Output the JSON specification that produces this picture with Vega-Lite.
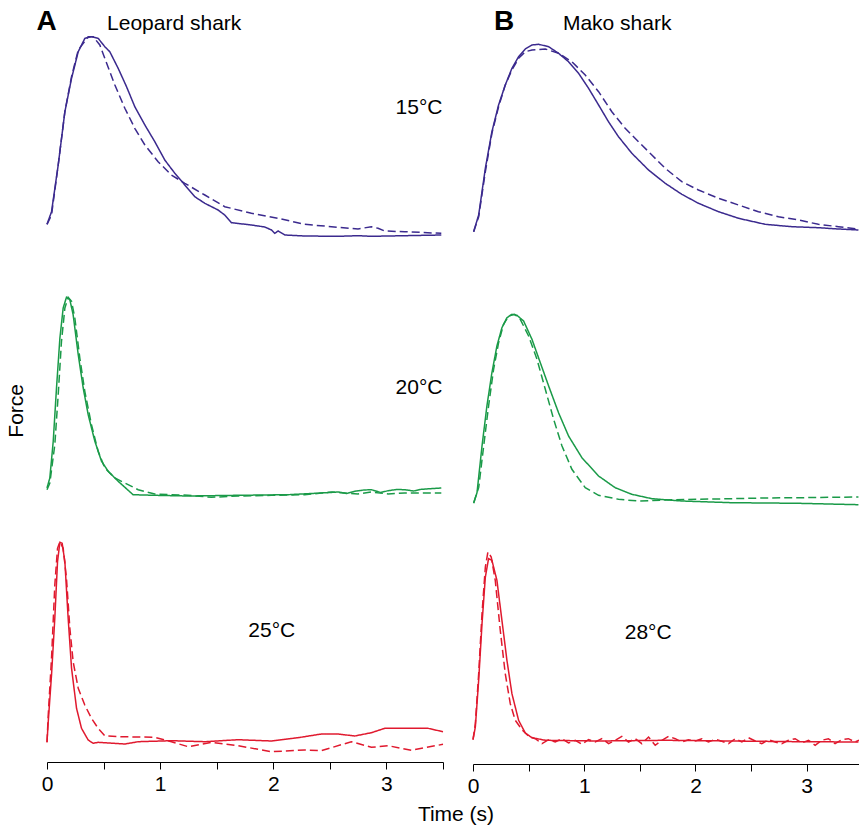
{
  "$schema": "https://vega.github.io/schema/vega-lite/v6.json",
  "background": "white",
  "padding": {"left": 5, "top": 5, "right": 0, "bottom": 2},
  "config": {"view": {"stroke": null}, "font": "Liberation Sans"},
  "title": {"text": "Time (s)", "orient": "bottom", "anchor": "middle", "font": "Liberation Sans", "fontSize": 21, "fontWeight": "normal", "color": "black", "offset": 8, "dx": 22},
  "datasets": {
    "leopard": [
      {"r":1,"k":"letter","t":-0.004,"f":220,"txt":"A"},
      {"r":1,"k":"name","t":1.124,"f":220,"txt":"Leopard shark"},
      {"r":1,"k":"temp","t":3.288,"f":135.7,"txt":"15°C"},
      {"r":2,"k":"temp","t":3.288,"f":112,"txt":"20°C"},
      {"r":3,"k":"temp","t":1.987,"f":125.3,"txt":"25°C"},
      {"r":1,"k":"solid","t":0,"f":25.7},{"r":1,"k":"solid","t":0.04,"f":38.3},{"r":1,"k":"solid","t":0.099,"f":85},{"r":1,"k":"solid","t":0.158,"f":138.3},{"r":1,"k":"solid","t":0.217,"f":171.7},{"r":1,"k":"solid","t":0.276,"f":198.3},{"r":1,"k":"solid","t":0.335,"f":211.7},{"r":1,"k":"solid","t":0.393,"f":213.3},{"r":1,"k":"solid","t":0.452,"f":211.7},{"r":1,"k":"solid","t":0.511,"f":203.3},{"r":1,"k":"solid","t":0.555,"f":198.3},{"r":1,"k":"solid","t":0.629,"f":181.7},{"r":1,"k":"solid","t":0.703,"f":163.3},{"r":1,"k":"solid","t":0.776,"f":143.3},{"r":1,"k":"solid","t":0.865,"f":125},{"r":1,"k":"solid","t":0.953,"f":108.3},{"r":1,"k":"solid","t":1.041,"f":90},{"r":1,"k":"solid","t":1.13,"f":76.7},{"r":1,"k":"solid","t":1.218,"f":65},{"r":1,"k":"solid","t":1.306,"f":53.3},{"r":1,"k":"solid","t":1.395,"f":46.7},{"r":1,"k":"solid","t":1.512,"f":40},{"r":1,"k":"solid","t":1.571,"f":35},{"r":1,"k":"solid","t":1.63,"f":27.3},{"r":1,"k":"solid","t":1.807,"f":25},{"r":1,"k":"solid","t":1.925,"f":23},{"r":1,"k":"solid","t":1.984,"f":20},{"r":1,"k":"solid","t":2.013,"f":16.7},{"r":1,"k":"solid","t":2.043,"f":19},{"r":1,"k":"solid","t":2.102,"f":15},{"r":1,"k":"solid","t":2.278,"f":14},{"r":1,"k":"solid","t":2.572,"f":13.7},{"r":1,"k":"solid","t":2.749,"f":14.3},{"r":1,"k":"solid","t":2.867,"f":13.7},{"r":1,"k":"solid","t":3.161,"f":14.3},{"r":1,"k":"solid","t":3.485,"f":15},
      {"r":1,"k":"dashed","t":0,"f":25.7},{"r":1,"k":"dashed","t":0.04,"f":35},{"r":1,"k":"dashed","t":0.099,"f":85},{"r":1,"k":"dashed","t":0.158,"f":138.3},{"r":1,"k":"dashed","t":0.217,"f":173.3},{"r":1,"k":"dashed","t":0.276,"f":200},{"r":1,"k":"dashed","t":0.364,"f":213.3},{"r":1,"k":"dashed","t":0.408,"f":213.3},{"r":1,"k":"dashed","t":0.467,"f":205},{"r":1,"k":"dashed","t":0.511,"f":191.7},{"r":1,"k":"dashed","t":0.6,"f":165},{"r":1,"k":"dashed","t":0.688,"f":141.7},{"r":1,"k":"dashed","t":0.776,"f":121.7},{"r":1,"k":"dashed","t":0.865,"f":105},{"r":1,"k":"dashed","t":0.982,"f":88.3},{"r":1,"k":"dashed","t":1.1,"f":75},{"r":1,"k":"dashed","t":1.218,"f":66.7},{"r":1,"k":"dashed","t":1.395,"f":55},{"r":1,"k":"dashed","t":1.571,"f":43.3},{"r":1,"k":"dashed","t":1.807,"f":36.7},{"r":1,"k":"dashed","t":2.043,"f":31.7},{"r":1,"k":"dashed","t":2.278,"f":25.7},{"r":1,"k":"dashed","t":2.514,"f":23.3},{"r":1,"k":"dashed","t":2.749,"f":21},{"r":1,"k":"dashed","t":2.867,"f":23.3},{"r":1,"k":"dashed","t":2.926,"f":21.7},{"r":1,"k":"dashed","t":2.985,"f":19},{"r":1,"k":"dashed","t":3.161,"f":18.3},{"r":1,"k":"dashed","t":3.485,"f":16.7},
      {"r":2,"k":"solid","t":0,"f":18},{"r":2,"k":"solid","t":0.025,"f":28},{"r":2,"k":"solid","t":0.055,"f":64.7},{"r":2,"k":"solid","t":0.084,"f":118},{"r":2,"k":"solid","t":0.114,"f":168},{"r":2,"k":"solid","t":0.143,"f":198},{"r":2,"k":"solid","t":0.172,"f":208.7},{"r":2,"k":"solid","t":0.202,"f":206.3},{"r":2,"k":"solid","t":0.231,"f":191.3},{"r":2,"k":"solid","t":0.276,"f":151.3},{"r":2,"k":"solid","t":0.32,"f":118},{"r":2,"k":"solid","t":0.364,"f":91.3},{"r":2,"k":"solid","t":0.423,"f":64.7},{"r":2,"k":"solid","t":0.482,"f":44.7},{"r":2,"k":"solid","t":0.541,"f":34.7},{"r":2,"k":"solid","t":0.629,"f":24.7},{"r":2,"k":"solid","t":0.761,"f":11.3},{"r":2,"k":"solid","t":0.953,"f":10.7},{"r":2,"k":"solid","t":1.247,"f":10},{"r":2,"k":"solid","t":1.689,"f":10.7},{"r":2,"k":"solid","t":2.131,"f":11.3},{"r":2,"k":"solid","t":2.425,"f":13},{"r":2,"k":"solid","t":2.573,"f":14},{"r":2,"k":"solid","t":2.65,"f":12.5},{"r":2,"k":"solid","t":2.72,"f":14.7},{"r":2,"k":"solid","t":2.8,"f":16},{"r":2,"k":"solid","t":2.867,"f":16.3},{"r":2,"k":"solid","t":2.95,"f":13.5},{"r":2,"k":"solid","t":3.015,"f":15.3},{"r":2,"k":"solid","t":3.09,"f":16.5},{"r":2,"k":"solid","t":3.161,"f":16.3},{"r":2,"k":"solid","t":3.24,"f":15},{"r":2,"k":"solid","t":3.309,"f":16.7},{"r":2,"k":"solid","t":3.485,"f":18},
      {"r":2,"k":"dashed","t":0,"f":16.3},{"r":2,"k":"dashed","t":0.025,"f":23},{"r":2,"k":"dashed","t":0.069,"f":61.3},{"r":2,"k":"dashed","t":0.099,"f":111.3},{"r":2,"k":"dashed","t":0.128,"f":164.7},{"r":2,"k":"dashed","t":0.158,"f":198},{"r":2,"k":"dashed","t":0.187,"f":208.7},{"r":2,"k":"dashed","t":0.217,"f":204.7},{"r":2,"k":"dashed","t":0.246,"f":188},{"r":2,"k":"dashed","t":0.29,"f":148},{"r":2,"k":"dashed","t":0.334,"f":114.7},{"r":2,"k":"dashed","t":0.393,"f":81.3},{"r":2,"k":"dashed","t":0.452,"f":54.7},{"r":2,"k":"dashed","t":0.511,"f":38},{"r":2,"k":"dashed","t":0.6,"f":28},{"r":2,"k":"dashed","t":0.688,"f":23},{"r":2,"k":"dashed","t":0.806,"f":16.3},{"r":2,"k":"dashed","t":0.953,"f":12},{"r":2,"k":"dashed","t":1.247,"f":10.7},{"r":2,"k":"dashed","t":1.453,"f":8.7},{"r":2,"k":"dashed","t":1.689,"f":10},{"r":2,"k":"dashed","t":1.983,"f":10.7},{"r":2,"k":"dashed","t":2.278,"f":11.3},{"r":2,"k":"dashed","t":2.514,"f":14},{"r":2,"k":"dashed","t":2.749,"f":12},{"r":2,"k":"dashed","t":2.867,"f":14},{"r":2,"k":"dashed","t":3.015,"f":12},{"r":2,"k":"dashed","t":3.161,"f":13},{"r":2,"k":"dashed","t":3.485,"f":13},
      {"r":3,"k":"solid","t":0,"f":19.7},{"r":3,"k":"solid","t":0.011,"f":40.3},{"r":3,"k":"solid","t":0.04,"f":87},{"r":3,"k":"solid","t":0.069,"f":143.7},{"r":3,"k":"solid","t":0.093,"f":200.3},{"r":3,"k":"solid","t":0.114,"f":219.7},{"r":3,"k":"solid","t":0.134,"f":218.7},{"r":3,"k":"solid","t":0.158,"f":200.3},{"r":3,"k":"solid","t":0.187,"f":143.7},{"r":3,"k":"solid","t":0.217,"f":93.7},{"r":3,"k":"solid","t":0.261,"f":53.7},{"r":3,"k":"solid","t":0.305,"f":33.7},{"r":3,"k":"solid","t":0.364,"f":22},{"r":3,"k":"solid","t":0.408,"f":18.7},{"r":3,"k":"solid","t":0.452,"f":19.7},{"r":3,"k":"solid","t":0.688,"f":18},{"r":3,"k":"solid","t":0.806,"f":20.3},{"r":3,"k":"solid","t":1.1,"f":21.3},{"r":3,"k":"solid","t":1.395,"f":20.3},{"r":3,"k":"solid","t":1.689,"f":22.3},{"r":3,"k":"solid","t":1.983,"f":21},{"r":3,"k":"solid","t":2.219,"f":24.3},{"r":3,"k":"solid","t":2.425,"f":28},{"r":3,"k":"solid","t":2.573,"f":28},{"r":3,"k":"solid","t":2.72,"f":26},{"r":3,"k":"solid","t":2.867,"f":29.3},{"r":3,"k":"solid","t":2.985,"f":33.7},{"r":3,"k":"solid","t":3.161,"f":33.7},{"r":3,"k":"solid","t":3.367,"f":33.7},{"r":3,"k":"solid","t":3.5,"f":30.3},
      {"r":3,"k":"dashed","t":0,"f":19.7},{"r":3,"k":"dashed","t":0.011,"f":47},{"r":3,"k":"dashed","t":0.04,"f":103.7},{"r":3,"k":"dashed","t":0.069,"f":177},{"r":3,"k":"dashed","t":0.093,"f":213.7},{"r":3,"k":"dashed","t":0.114,"f":220.3},{"r":3,"k":"dashed","t":0.143,"f":213.7},{"r":3,"k":"dashed","t":0.172,"f":183.7},{"r":3,"k":"dashed","t":0.202,"f":133.7},{"r":3,"k":"dashed","t":0.231,"f":100.3},{"r":3,"k":"dashed","t":0.276,"f":73.7},{"r":3,"k":"dashed","t":0.334,"f":57},{"r":3,"k":"dashed","t":0.393,"f":43.7},{"r":3,"k":"dashed","t":0.452,"f":33.7},{"r":3,"k":"dashed","t":0.511,"f":26.3},{"r":3,"k":"dashed","t":0.658,"f":25.3},{"r":3,"k":"dashed","t":0.953,"f":24.7},{"r":3,"k":"dashed","t":1.1,"f":20.3},{"r":3,"k":"dashed","t":1.247,"f":15.3},{"r":3,"k":"dashed","t":1.453,"f":19.7},{"r":3,"k":"dashed","t":1.689,"f":16.3},{"r":3,"k":"dashed","t":1.983,"f":10.3},{"r":3,"k":"dashed","t":2.278,"f":12},{"r":3,"k":"dashed","t":2.425,"f":11.3},{"r":3,"k":"dashed","t":2.69,"f":20.3},{"r":3,"k":"dashed","t":2.867,"f":14.7},{"r":3,"k":"dashed","t":3.015,"f":16.3},{"r":3,"k":"dashed","t":3.22,"f":11.7},{"r":3,"k":"dashed","t":3.5,"f":17.7}
    ],
    "mako": [
      {"r":1,"k":"letter","t":0.279,"f":220,"txt":"B"},
      {"r":1,"k":"name","t":1.296,"f":220,"txt":"Mako shark"},
      {"r":3,"k":"temp","t":1.575,"f":125.3,"txt":"28°C"},
      {"r":1,"k":"solid","t":0.006,"f":18.3},{"r":1,"k":"solid","t":0.051,"f":35},{"r":1,"k":"solid","t":0.111,"f":81.7},{"r":1,"k":"solid","t":0.17,"f":118.3},{"r":1,"k":"solid","t":0.23,"f":145},{"r":1,"k":"solid","t":0.29,"f":165},{"r":1,"k":"solid","t":0.35,"f":181.7},{"r":1,"k":"solid","t":0.41,"f":193.3},{"r":1,"k":"solid","t":0.47,"f":201},{"r":1,"k":"solid","t":0.53,"f":205},{"r":1,"k":"solid","t":0.59,"f":205.7},{"r":1,"k":"solid","t":0.68,"f":203.3},{"r":1,"k":"solid","t":0.769,"f":196.7},{"r":1,"k":"solid","t":0.859,"f":188.3},{"r":1,"k":"solid","t":0.949,"f":176.7},{"r":1,"k":"solid","t":1.039,"f":161.7},{"r":1,"k":"solid","t":1.129,"f":145},{"r":1,"k":"solid","t":1.218,"f":128.3},{"r":1,"k":"solid","t":1.308,"f":113.3},{"r":1,"k":"solid","t":1.428,"f":96.7},{"r":1,"k":"solid","t":1.578,"f":80},{"r":1,"k":"solid","t":1.728,"f":66.7},{"r":1,"k":"solid","t":1.877,"f":55.7},{"r":1,"k":"solid","t":2.027,"f":46.7},{"r":1,"k":"solid","t":2.207,"f":38.3},{"r":1,"k":"solid","t":2.387,"f":31.7},{"r":1,"k":"solid","t":2.626,"f":25.7},{"r":1,"k":"solid","t":2.866,"f":23.3},{"r":1,"k":"solid","t":3.105,"f":22.3},{"r":1,"k":"solid","t":3.285,"f":21},{"r":1,"k":"solid","t":3.465,"f":20},
      {"r":1,"k":"dashed","t":0.006,"f":18.3},{"r":1,"k":"dashed","t":0.051,"f":33.3},{"r":1,"k":"dashed","t":0.111,"f":78.3},{"r":1,"k":"dashed","t":0.17,"f":116.7},{"r":1,"k":"dashed","t":0.23,"f":143.3},{"r":1,"k":"dashed","t":0.29,"f":165},{"r":1,"k":"dashed","t":0.35,"f":180},{"r":1,"k":"dashed","t":0.41,"f":191.7},{"r":1,"k":"dashed","t":0.47,"f":198.3},{"r":1,"k":"dashed","t":0.53,"f":200},{"r":1,"k":"dashed","t":0.65,"f":201},{"r":1,"k":"dashed","t":0.769,"f":196.7},{"r":1,"k":"dashed","t":0.889,"f":188.3},{"r":1,"k":"dashed","t":1.009,"f":175},{"r":1,"k":"dashed","t":1.129,"f":158.3},{"r":1,"k":"dashed","t":1.248,"f":138.3},{"r":1,"k":"dashed","t":1.368,"f":121.7},{"r":1,"k":"dashed","t":1.488,"f":108.3},{"r":1,"k":"dashed","t":1.608,"f":95},{"r":1,"k":"dashed","t":1.728,"f":81.7},{"r":1,"k":"dashed","t":1.877,"f":68.3},{"r":1,"k":"dashed","t":2.027,"f":60},{"r":1,"k":"dashed","t":2.207,"f":51.7},{"r":1,"k":"dashed","t":2.387,"f":45},{"r":1,"k":"dashed","t":2.566,"f":38.3},{"r":1,"k":"dashed","t":2.746,"f":33.3},{"r":1,"k":"dashed","t":2.926,"f":30},{"r":1,"k":"dashed","t":3.105,"f":25.7},{"r":1,"k":"dashed","t":3.285,"f":23.3},{"r":1,"k":"dashed","t":3.465,"f":21},
      {"r":2,"k":"solid","t":0.006,"f":3.7},{"r":2,"k":"solid","t":0.036,"f":14.3},{"r":2,"k":"solid","t":0.081,"f":61},{"r":2,"k":"solid","t":0.125,"f":101},{"r":2,"k":"solid","t":0.17,"f":134.3},{"r":2,"k":"solid","t":0.215,"f":161},{"r":2,"k":"solid","t":0.26,"f":179.3},{"r":2,"k":"solid","t":0.305,"f":189.3},{"r":2,"k":"solid","t":0.35,"f":192.7},{"r":2,"k":"solid","t":0.395,"f":191.7},{"r":2,"k":"solid","t":0.455,"f":186},{"r":2,"k":"solid","t":0.53,"f":167.7},{"r":2,"k":"solid","t":0.605,"f":144.3},{"r":2,"k":"solid","t":0.68,"f":121},{"r":2,"k":"solid","t":0.769,"f":94.3},{"r":2,"k":"solid","t":0.859,"f":71},{"r":2,"k":"solid","t":0.979,"f":49.3},{"r":2,"k":"solid","t":1.129,"f":31},{"r":2,"k":"solid","t":1.278,"f":19.3},{"r":2,"k":"solid","t":1.428,"f":12.7},{"r":2,"k":"solid","t":1.608,"f":8.3},{"r":2,"k":"solid","t":1.877,"f":6},{"r":2,"k":"solid","t":2.327,"f":4.3},{"r":2,"k":"solid","t":2.926,"f":3.7},{"r":2,"k":"solid","t":3.465,"f":2.3},
      {"r":2,"k":"dashed","t":0.006,"f":4.3},{"r":2,"k":"dashed","t":0.051,"f":19.3},{"r":2,"k":"dashed","t":0.096,"f":61},{"r":2,"k":"dashed","t":0.14,"f":101},{"r":2,"k":"dashed","t":0.185,"f":137.7},{"r":2,"k":"dashed","t":0.23,"f":164.3},{"r":2,"k":"dashed","t":0.275,"f":182.7},{"r":2,"k":"dashed","t":0.32,"f":191},{"r":2,"k":"dashed","t":0.374,"f":192.7},{"r":2,"k":"dashed","t":0.425,"f":187.7},{"r":2,"k":"dashed","t":0.5,"f":171},{"r":2,"k":"dashed","t":0.575,"f":147.7},{"r":2,"k":"dashed","t":0.65,"f":117.7},{"r":2,"k":"dashed","t":0.725,"f":87.7},{"r":2,"k":"dashed","t":0.8,"f":61},{"r":2,"k":"dashed","t":0.889,"f":37.7},{"r":2,"k":"dashed","t":1.009,"f":19.3},{"r":2,"k":"dashed","t":1.129,"f":11.7},{"r":2,"k":"dashed","t":1.308,"f":7.7},{"r":2,"k":"dashed","t":1.488,"f":6},{"r":2,"k":"dashed","t":1.728,"f":7},{"r":2,"k":"dashed","t":2.027,"f":7.7},{"r":2,"k":"dashed","t":2.327,"f":8.3},{"r":2,"k":"dashed","t":2.626,"f":9},{"r":2,"k":"dashed","t":2.926,"f":9.3},{"r":2,"k":"dashed","t":3.465,"f":10},
      {"r":3,"k":"solid","t":0,"f":24.3},{"r":3,"k":"solid","t":0.021,"f":37},{"r":3,"k":"solid","t":0.051,"f":83.7},{"r":3,"k":"solid","t":0.081,"f":140.3},{"r":3,"k":"solid","t":0.111,"f":187},{"r":3,"k":"solid","t":0.14,"f":205.3},{"r":3,"k":"solid","t":0.17,"f":203.7},{"r":3,"k":"solid","t":0.215,"f":183.7},{"r":3,"k":"solid","t":0.26,"f":143.7},{"r":3,"k":"solid","t":0.305,"f":103.7},{"r":3,"k":"solid","t":0.35,"f":70.3},{"r":3,"k":"solid","t":0.41,"f":43.7},{"r":3,"k":"solid","t":0.47,"f":31},{"r":3,"k":"solid","t":0.53,"f":26.3},{"r":3,"k":"solid","t":0.65,"f":23.7},{"r":3,"k":"solid","t":1.129,"f":23},{"r":3,"k":"solid","t":1.728,"f":23.7},{"r":3,"k":"solid","t":2.327,"f":23},{"r":3,"k":"solid","t":2.926,"f":22.3},{"r":3,"k":"solid","t":3.465,"f":22},
      {"r":3,"k":"dashed","t":0,"f":24.3},{"r":3,"k":"dashed","t":0.021,"f":40.3},{"r":3,"k":"dashed","t":0.051,"f":90.3},{"r":3,"k":"dashed","t":0.081,"f":150.3},{"r":3,"k":"dashed","t":0.111,"f":197},{"r":3,"k":"dashed","t":0.134,"f":212},{"r":3,"k":"dashed","t":0.164,"f":207},{"r":3,"k":"dashed","t":0.2,"f":183.7},{"r":3,"k":"dashed","t":0.245,"f":133.7},{"r":3,"k":"dashed","t":0.29,"f":90.3},{"r":3,"k":"dashed","t":0.335,"f":60.3},{"r":3,"k":"dashed","t":0.38,"f":43.7},{"r":3,"k":"dashed","t":0.44,"f":34.3},{"r":3,"k":"dashed","t":0.5,"f":27.7},{"r":3,"k":"dashed","t":0.56,"f":25.3},
      {"r":3,"k":"dashed","t":0.62,"f":20.3},{"r":3,"k":"dashed","t":0.68,"f":24.3},{"r":3,"k":"dashed","t":0.739,"f":22},{"r":3,"k":"dashed","t":0.799,"f":25.3},{"r":3,"k":"dashed","t":0.859,"f":21},{"r":3,"k":"dashed","t":0.919,"f":23.7},{"r":3,"k":"dashed","t":0.979,"f":19.7},{"r":3,"k":"dashed","t":1.039,"f":24.3},{"r":3,"k":"dashed","t":1.099,"f":22},{"r":3,"k":"dashed","t":1.159,"f":25.3},{"r":3,"k":"dashed","t":1.219,"f":20.3},{"r":3,"k":"dashed","t":1.279,"f":23.7},{"r":3,"k":"dashed","t":1.338,"f":27.7},{"r":3,"k":"dashed","t":1.398,"f":22},{"r":3,"k":"dashed","t":1.458,"f":25.3},{"r":3,"k":"dashed","t":1.518,"f":20.3},{"r":3,"k":"dashed","t":1.578,"f":27},{"r":3,"k":"dashed","t":1.638,"f":18.7},{"r":3,"k":"dashed","t":1.698,"f":23.7},{"r":3,"k":"dashed","t":1.758,"f":27.7},{"r":3,"k":"dashed","t":1.818,"f":25.3},{"r":3,"k":"dashed","t":1.877,"f":22},{"r":3,"k":"dashed","t":1.937,"f":24.3},{"r":3,"k":"dashed","t":1.997,"f":23},{"r":3,"k":"dashed","t":2.057,"f":25.3},{"r":3,"k":"dashed","t":2.117,"f":22},{"r":3,"k":"dashed","t":2.177,"f":24.7},{"r":3,"k":"dashed","t":2.237,"f":22.7},{"r":3,"k":"dashed","t":2.297,"f":20.3},{"r":3,"k":"dashed","t":2.357,"f":25.3},{"r":3,"k":"dashed","t":2.417,"f":22},{"r":3,"k":"dashed","t":2.477,"f":26.3},{"r":3,"k":"dashed","t":2.537,"f":23},{"r":3,"k":"dashed","t":2.596,"f":20.3},{"r":3,"k":"dashed","t":2.656,"f":24.3},{"r":3,"k":"dashed","t":2.716,"f":22},{"r":3,"k":"dashed","t":2.776,"f":20.3},{"r":3,"k":"dashed","t":2.836,"f":23.7},{"r":3,"k":"dashed","t":2.896,"f":25.3},{"r":3,"k":"dashed","t":2.956,"f":21},{"r":3,"k":"dashed","t":3.016,"f":23.7},{"r":3,"k":"dashed","t":3.076,"f":18.7},{"r":3,"k":"dashed","t":3.135,"f":23.7},{"r":3,"k":"dashed","t":3.195,"f":25.3},{"r":3,"k":"dashed","t":3.255,"f":20.3},{"r":3,"k":"dashed","t":3.315,"f":24.3},{"r":3,"k":"dashed","t":3.375,"f":25.3},{"r":3,"k":"dashed","t":3.435,"f":22},{"r":3,"k":"dashed","t":3.47,"f":23.7}
    ]
  },
  "spacing": 21,
  "hconcat": [
    {
      "data": {"name": "leopard"},
      "spacing": 11,
      "facet": {"row": {"field": "r", "type": "ordinal", "title": "Force", "header": {"labels": false, "titleFont": "Liberation Sans", "titleFontSize": 21, "titleFontWeight": "normal", "titleColor": "black", "titleAlign": "right", "titlePadding": -1}}},
      "spec": {
        "width": 396, "height": 245,
        "layer": [
          {"transform": [{"filter": "datum.k == 'solid' || datum.k == 'dashed'"}],
           "mark": {"type": "line", "strokeWidth": 1.5},
           "encoding": {
             "x": {"field": "t", "type": "quantitative", "scale": {"domain": [0, 3.5], "nice": false, "zero": false},
                   "axis": {"values": [0, 0.5, 1, 1.5, 2, 2.5, 3, 3.5], "labelExpr": "datum.value % 1 === 0 ? format(datum.value, 'd') : ''", "title": null, "grid": false, "domainColor": "black", "tickColor": "black", "tickSize": 7, "labelFont": "Liberation Sans", "labelFontSize": 21, "labelColor": "black", "labelPadding": 4, "labelOverlap": false, "labelFlush": false}},
             "y": {"field": "f", "type": "quantitative", "scale": {"domain": [0, 245], "nice": false, "zero": false}, "axis": null},
             "color": {"field": "r", "type": "ordinal", "scale": {"domain": [1, 2, 3], "range": ["#3b2a8e", "#1a9a48", "#e0192e"]}, "legend": null},
             "strokeDash": {"field": "k", "type": "nominal", "scale": {"domain": ["solid", "dashed"], "range": [[1, 0], [8, 4]]}, "legend": null}
           }},
          {"transform": [{"filter": "datum.k == 'letter'"}],
           "mark": {"type": "text", "font": "Liberation Sans", "fontSize": 28, "fontWeight": "bold", "align": "center", "baseline": "alphabetic", "color": "black"},
           "encoding": {"x": {"field": "t", "type": "quantitative"}, "y": {"field": "f", "type": "quantitative"}, "text": {"field": "txt"}}},
          {"transform": [{"filter": "datum.k == 'name' || datum.k == 'temp'"}],
           "mark": {"type": "text", "font": "Liberation Sans", "fontSize": 21, "align": "center", "baseline": "alphabetic", "color": "black"},
           "encoding": {"x": {"field": "t", "type": "quantitative"}, "y": {"field": "f", "type": "quantitative"}, "text": {"field": "txt"}}}
        ]
      }
    },
    {
      "data": {"name": "mako"},
      "spacing": 11,
      "facet": {"row": {"field": "r", "type": "ordinal", "title": null, "header": {"labels": false, "title": null}}},
      "spec": {
        "width": 386, "height": 245,
        "layer": [
          {"transform": [{"filter": "datum.k == 'solid' || datum.k == 'dashed'"}],
           "mark": {"type": "line", "strokeWidth": 1.5},
           "encoding": {
             "x": {"field": "t", "type": "quantitative", "scale": {"domain": [0, 3.47], "nice": false, "zero": false},
                   "axis": {"values": [0, 0.5, 1, 1.5, 2, 2.5, 3], "labelExpr": "datum.value % 1 === 0 ? format(datum.value, 'd') : ''", "title": null, "grid": false, "domainColor": "black", "tickColor": "black", "tickSize": 7, "labelFont": "Liberation Sans", "labelFontSize": 21, "labelColor": "black", "labelPadding": 4, "labelOverlap": false, "labelFlush": false}},
             "y": {"field": "f", "type": "quantitative", "scale": {"domain": [0, 245], "nice": false, "zero": false}, "axis": null},
             "color": {"field": "r", "type": "ordinal", "scale": {"domain": [1, 2, 3], "range": ["#3b2a8e", "#1a9a48", "#e0192e"]}, "legend": null},
             "strokeDash": {"field": "k", "type": "nominal", "scale": {"domain": ["solid", "dashed"], "range": [[1, 0], [8, 4]]}, "legend": null}
           }},
          {"transform": [{"filter": "datum.k == 'letter'"}],
           "mark": {"type": "text", "font": "Liberation Sans", "fontSize": 28, "fontWeight": "bold", "align": "center", "baseline": "alphabetic", "color": "black"},
           "encoding": {"x": {"field": "t", "type": "quantitative"}, "y": {"field": "f", "type": "quantitative"}, "text": {"field": "txt"}}},
          {"transform": [{"filter": "datum.k == 'name' || datum.k == 'temp'"}],
           "mark": {"type": "text", "font": "Liberation Sans", "fontSize": 21, "align": "center", "baseline": "alphabetic", "color": "black"},
           "encoding": {"x": {"field": "t", "type": "quantitative"}, "y": {"field": "f", "type": "quantitative"}, "text": {"field": "txt"}}}
        ]
      }
    }
  ]
}
